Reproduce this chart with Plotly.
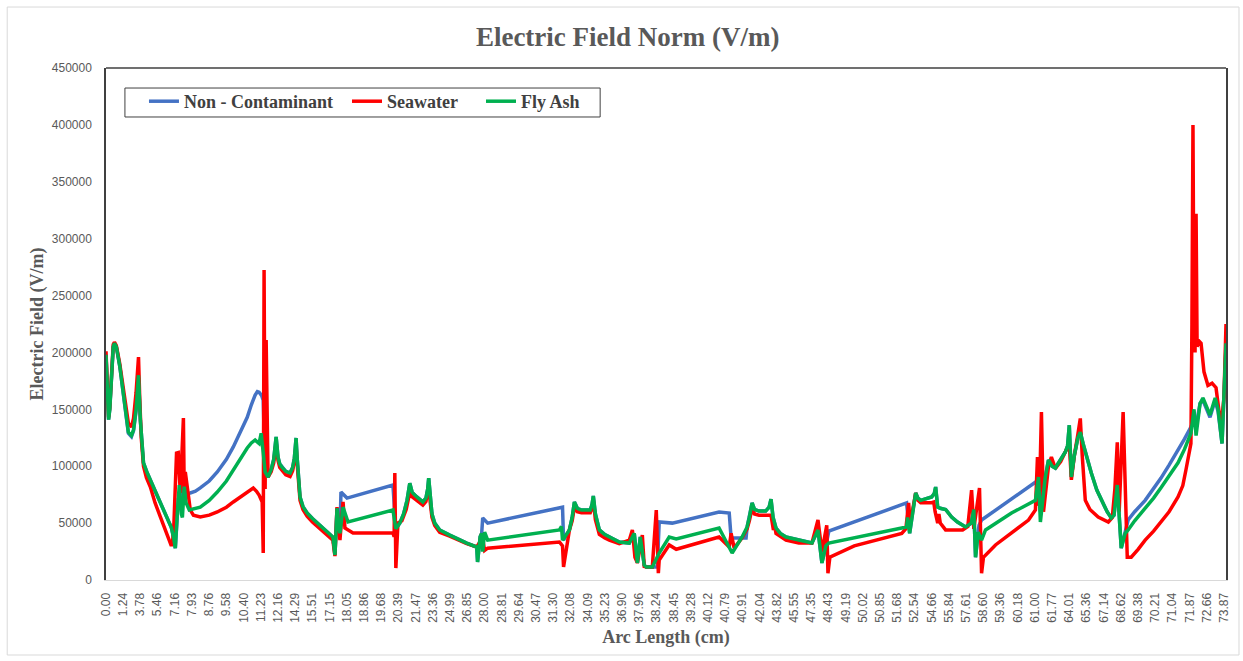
import plotly.graph_objects as go

# ---- tick labels of the category axis (arc length, cm) ----
tick_labels = ["0.00", "1.24", "3.78", "5.46", "7.16", "7.93", "8.76", "9.58", "10.40", "11.23",
               "12.16", "14.29", "15.51", "17.15", "18.05", "18.86", "19.68", "20.39", "21.47", "23.36",
               "24.99", "26.85", "28.00", "28.81", "29.64", "30.47", "31.30", "32.08", "34.09", "35.23",
               "36.90", "37.96", "38.24", "38.45", "39.28", "40.12", "40.79", "40.91", "42.04", "43.82",
               "45.55", "47.35", "48.43", "49.19", "50.02", "50.85", "51.68", "52.54", "54.66", "55.84",
               "57.61", "58.60", "59.36", "60.18", "61.00", "61.77", "64.01", "65.36", "67.14", "68.62",
               "69.38", "70.21", "71.04", "71.87", "72.66", "73.87"]
y_ticks = [0, 50000, 100000, 150000, 200000, 250000, 300000, 350000, 400000, 450000]

# ---- series: (position along the category axis in tick-label steps, field in V/m) ----
non_contaminant = [
    (0, 198000), (0.05, 172000), (0.10, 148000), (0.15, 141000), (0.22, 150000), (0.32, 185000),
    (0.42, 205000), (0.49, 208000), (0.60, 205000), (0.80, 188000), (1.00, 165000), (1.15, 145000),
    (1.30, 129000), (1.48, 126000), (1.60, 131000), (1.75, 149000), (1.89, 178000), (2.00, 140000),
    (2.08, 118000), (2.18, 103000), (2.40, 94000), (2.58, 88000), (2.85, 78000), (3.16, 68000),
    (3.40, 61000), (3.63, 53000), (3.80, 46000), (3.92, 38000), (4.03, 28000), (4.21, 72000),
    (4.32, 62000), (4.50, 85000), (4.61, 76000), (4.90, 76500), (5.20, 78000), (5.48, 80900),
    (6.00, 87000), (6.47, 95000), (7.00, 106000), (7.40, 117000), (7.80, 129000), (8.21, 143000),
    (8.45, 154000), (8.67, 162600), (8.80, 165500), (8.90, 165000), (9.05, 162000), (9.14, 158000),
    (9.25, 95000), (9.42, 90500), (9.60, 97000), (9.75, 106000), (9.89, 125700), (10.00, 108000),
    (10.10, 102000), (10.24, 99000), (10.45, 95500), (10.70, 94000), (10.85, 99000), (10.95, 107000),
    (11.05, 124800), (11.10, 110000), (11.18, 88000), (11.28, 73000), (11.45, 64500), (11.69, 58900),
    (12.00, 54000), (12.44, 48300), (12.80, 43500), (13.19, 37800), (13.31, 22000), (13.43, 63000),
    (13.60, 41000), (13.66, 77300), (14.01, 72000), (16.68, 83500), (16.85, 45000), (17.08, 50000),
    (17.30, 58000), (17.50, 70000), (17.66, 85000), (17.80, 77000), (18.07, 73000), (18.42, 68600),
    (18.60, 72000), (18.70, 80000), (18.76, 89600), (18.85, 72000), (18.95, 58000), (19.11, 50000),
    (19.40, 44000), (19.98, 39500), (20.50, 35500), (20.97, 32500), (21.55, 29000), (21.60, 15800),
    (21.75, 38000), (21.84, 41000), (21.90, 54500), (22.19, 50000), (26.54, 64000), (26.60, 35000),
    (26.94, 44000), (27.10, 55000), (27.23, 68600), (27.40, 63000), (27.64, 61500), (28.15, 61500),
    (28.25, 66000), (28.33, 73800), (28.45, 58000), (28.68, 44000), (29.00, 40000), (29.26, 37800),
    (29.84, 33400), (30.42, 32500), (30.71, 41000), (30.89, 15000), (31.06, 37800), (31.29, 13000),
    (31.41, 11400), (31.76, 11400), (32.05, 11400), (32.16, 51000), (32.92, 50000), (35.64, 59800),
    (36.23, 58900), (36.34, 37000), (37.21, 37000), (37.27, 46600), (37.40, 55000), (37.56, 67700),
    (37.70, 62000), (37.96, 60600), (38.35, 60600), (38.55, 64000), (38.66, 71000), (38.78, 55000),
    (38.95, 45700), (39.20, 41000), (39.53, 37800), (40.28, 35000), (41.04, 32500), (41.39, 44000),
    (41.62, 15000), (41.85, 30000), (42.02, 43000), (46.54, 67700), (46.66, 50000), (46.72, 41000),
    (46.90, 60000), (47.07, 76500), (47.20, 72000), (47.36, 70000), (48.00, 73000), (48.15, 76000),
    (48.23, 81700), (48.35, 64000), (48.50, 63000), (48.81, 62000), (49.16, 55400), (49.50, 51000),
    (49.97, 46600), (50.30, 50000), (50.45, 62000), (50.55, 20000), (50.75, 48000), (50.90, 52700),
    (54.21, 87900), (54.32, 60000), (54.60, 90000), (54.79, 105500), (55.00, 100000), (55.19, 98400),
    (55.50, 106000), (55.77, 112500), (55.90, 118000), (56.00, 136000), (56.12, 90500), (56.30, 110000),
    (56.50, 125000), (56.64, 130000), (56.80, 120000), (57.00, 108000), (57.28, 94000), (57.60, 79000),
    (57.86, 70000), (58.20, 60000), (58.44, 54500), (58.60, 57000), (58.79, 83500), (58.90, 50000),
    (59.02, 28000), (59.42, 52700), (59.80, 60000), (60.41, 70000), (60.90, 80000), (61.33, 89600),
    (61.80, 101000), (62.32, 114000), (62.70, 124000), (63.07, 134500), (63.31, 143000), (63.37, 135000),
    (63.60, 155000), (63.77, 158000), (64.18, 143000), (64.48, 158000), (64.65, 148000), (64.88, 120000),
    (65.11, 205000),
]

seawater = [
    (0, 201000), (0.05, 175000), (0.10, 150000), (0.15, 143000), (0.22, 152000), (0.32, 187000),
    (0.42, 207000), (0.49, 209000), (0.60, 206000), (0.80, 190000), (1.00, 168000), (1.15, 150000),
    (1.30, 138000), (1.48, 134500), (1.60, 142000), (1.75, 165000), (1.89, 196000), (1.96, 160000),
    (2.05, 125000), (2.18, 100000), (2.35, 90000), (2.58, 81700), (2.85, 68000), (3.16, 55400),
    (3.40, 45000), (3.57, 37800), (3.70, 32000), (3.80, 29900), (3.88, 35000), (3.95, 50000),
    (4.10, 111600), (4.20, 112000), (4.32, 76500), (4.50, 142400), (4.55, 73000), (4.61, 95000),
    (4.90, 61500), (5.08, 57000), (5.48, 55400), (6.00, 57000), (6.47, 59800), (7.00, 64000),
    (7.40, 68600), (7.80, 73000), (8.21, 77300), (8.56, 80900), (8.75, 78000), (8.90, 74700),
    (9.08, 68600), (9.14, 23700), (9.19, 272500), (9.25, 80000), (9.31, 211000), (9.42, 90500),
    (9.60, 95000), (9.75, 103000), (9.89, 121000), (10.00, 105000), (10.10, 99000), (10.24, 96000),
    (10.45, 92500), (10.70, 91000), (10.85, 96000), (10.95, 104000), (11.05, 118000), (11.10, 105000),
    (11.18, 85000), (11.28, 70000), (11.45, 62000), (11.69, 56000), (12.00, 51000), (12.44, 45000),
    (12.80, 40000), (13.19, 35000), (13.31, 21000), (13.43, 64000), (13.60, 35000), (13.78, 68600),
    (13.89, 45700), (14.36, 41300), (16.68, 41300), (16.75, 38000), (16.79, 94000), (16.85, 10500),
    (16.97, 50000), (17.20, 52000), (17.45, 62000), (17.66, 77000), (17.80, 73000), (18.07, 70000),
    (18.42, 65900), (18.60, 69000), (18.76, 83000), (18.85, 68000), (18.95, 55000), (19.11, 48000),
    (19.40, 42000), (19.98, 38500), (20.50, 35000), (20.97, 32000), (21.55, 29000), (21.72, 33000),
    (21.84, 41000), (22.01, 26000), (22.19, 28000), (26.36, 33400), (26.54, 30000), (26.60, 11400),
    (26.94, 44000), (27.10, 52000), (27.23, 64000), (27.40, 60000), (27.64, 59000), (28.15, 59000),
    (28.25, 63000), (28.33, 70000), (28.45, 53000), (28.68, 40000), (29.00, 37000), (29.26, 35000),
    (29.84, 32000), (30.42, 35000), (30.60, 44000), (30.75, 20000), (30.89, 15000), (31.18, 39500),
    (31.29, 12000), (31.41, 11400), (31.76, 11400), (31.99, 61500), (32.11, 6000), (32.16, 17600),
    (32.74, 30800), (33.15, 27000), (35.64, 37800), (36.23, 29000), (36.34, 41000), (36.52, 28000),
    (36.98, 37000), (37.27, 45000), (37.40, 52000), (37.56, 63000), (37.70, 58000), (37.96, 57000),
    (38.35, 57000), (38.66, 57000), (38.80, 44000), (38.88, 47000), (38.95, 41000), (39.20, 38000),
    (39.53, 35000), (40.28, 32500), (41.04, 32500), (41.39, 52700), (41.62, 25000), (41.90, 48000),
    (41.97, 6000), (42.08, 20000), (43.50, 30000), (46.26, 41000), (46.50, 45000), (46.66, 67700),
    (46.75, 50000), (46.90, 62000), (47.07, 76500), (47.20, 70000), (47.36, 68000), (48.00, 68000),
    (48.12, 68600), (48.20, 60000), (48.35, 50000), (48.42, 58000), (48.50, 50000), (48.81, 44000),
    (49.80, 44000), (50.10, 47000), (50.32, 79000), (50.45, 45000), (50.78, 80900), (50.90, 6000),
    (51.01, 20000), (51.71, 30800), (52.64, 41000), (53.63, 52700), (54.03, 61500), (54.15, 108000),
    (54.25, 65000), (54.38, 147600), (54.50, 60000), (54.79, 100000), (54.96, 108000), (55.19, 98000),
    (55.50, 104000), (55.77, 112000), (56.00, 120000), (56.12, 88000), (56.30, 110000), (56.50, 128000),
    (56.64, 142000), (56.75, 110000), (56.93, 70000), (57.20, 62000), (57.68, 55400), (58.27, 51000),
    (58.50, 55000), (58.65, 80000), (58.79, 121000), (58.90, 60000), (59.13, 147600), (59.37, 20000),
    (59.60, 20000), (60.00, 27000), (60.41, 35000), (60.90, 43000), (61.33, 51000), (61.80, 60000),
    (62.32, 73000), (62.60, 83000), (62.78, 96700), (62.95, 110000), (63.07, 120000), (63.13, 225000),
    (63.19, 400000), (63.25, 215000), (63.31, 200000), (63.37, 322000), (63.43, 205000), (63.54, 210000),
    (63.66, 208000), (63.83, 183000), (64.06, 171000), (64.30, 173000), (64.53, 169000), (64.82, 134500),
    (64.99, 160000), (65.11, 225000),
]

fly_ash = [
    (0, 198000), (0.05, 172000), (0.10, 148000), (0.15, 141000), (0.22, 150000), (0.32, 185000),
    (0.42, 205000), (0.49, 208000), (0.60, 205000), (0.80, 188000), (1.00, 165000), (1.15, 145000),
    (1.30, 130000), (1.48, 127000), (1.60, 132000), (1.75, 150000), (1.89, 180000), (2.00, 140000),
    (2.08, 118000), (2.18, 103000), (2.40, 94000), (2.58, 88000), (2.85, 78000), (3.16, 68000),
    (3.40, 61000), (3.63, 53000), (3.80, 46000), (3.92, 38000), (4.03, 28000), (4.15, 60000),
    (4.26, 83500), (4.38, 58000), (4.44, 55000), (4.55, 82000), (4.65, 68000), (4.84, 61500),
    (5.48, 64000), (6.00, 70000), (6.47, 77300), (7.00, 87000), (7.40, 96700), (7.80, 106000),
    (8.21, 116000), (8.45, 120500), (8.67, 123000), (8.90, 120000), (9.02, 129000), (9.14, 112000),
    (9.25, 95000), (9.42, 90500), (9.60, 97000), (9.75, 106000), (9.89, 125700), (10.00, 108000),
    (10.10, 102000), (10.24, 99000), (10.45, 95500), (10.70, 94000), (10.85, 99000), (10.95, 107000),
    (11.05, 124800), (11.10, 110000), (11.18, 88000), (11.28, 73000), (11.45, 64500), (11.69, 58900),
    (12.00, 54000), (12.44, 48300), (12.80, 43500), (13.19, 37800), (13.31, 22000), (13.43, 63000),
    (13.60, 41000), (13.78, 64000), (14.07, 51000), (16.68, 61500), (16.85, 45000), (17.08, 50000),
    (17.30, 58000), (17.50, 70000), (17.66, 85000), (17.80, 77000), (18.07, 73000), (18.42, 68600),
    (18.60, 72000), (18.70, 80000), (18.76, 89600), (18.85, 72000), (18.95, 58000), (19.11, 50000),
    (19.40, 44000), (19.98, 39500), (20.50, 35500), (20.97, 32500), (21.55, 29000), (21.60, 15800),
    (21.75, 38000), (21.84, 41000), (21.90, 25000), (22.01, 42000), (22.19, 35000), (26.36, 44000),
    (26.48, 47000), (26.54, 35000), (26.94, 44000), (27.10, 55000), (27.23, 68600), (27.40, 63000),
    (27.64, 61500), (28.15, 61500), (28.25, 66000), (28.33, 73800), (28.45, 58000), (28.68, 44000),
    (29.00, 40000), (29.26, 37800), (29.84, 33400), (30.42, 32500), (30.71, 41000), (30.89, 15000),
    (31.06, 37800), (31.29, 13000), (31.41, 11400), (31.76, 11400), (32.16, 23700), (32.74, 37800),
    (33.15, 36000), (35.64, 45700), (36.40, 23700), (36.98, 37800), (37.27, 46600), (37.40, 55000),
    (37.56, 67700), (37.70, 62000), (37.96, 60600), (38.35, 60600), (38.55, 64000), (38.66, 71000),
    (38.78, 55000), (38.95, 45700), (39.20, 41000), (39.53, 37800), (40.28, 35000), (41.04, 32500),
    (41.39, 44000), (41.62, 15000), (41.85, 30000), (42.02, 32500), (46.54, 46600), (46.60, 55000),
    (46.72, 41000), (46.90, 60000), (47.07, 76500), (47.20, 72000), (47.36, 70000), (48.00, 73000),
    (48.15, 76000), (48.23, 81700), (48.35, 64000), (48.50, 63000), (48.81, 62000), (49.16, 55400),
    (49.50, 51000), (49.97, 46600), (50.30, 50000), (50.45, 62000), (50.55, 20000), (50.70, 42000),
    (50.90, 35000), (51.13, 44000), (52.64, 58900), (54.03, 70000), (54.21, 90500), (54.32, 51000),
    (54.60, 90000), (54.79, 105500), (55.00, 100000), (55.19, 98400), (55.50, 106000), (55.77, 112500),
    (55.90, 118000), (56.00, 136000), (56.12, 90500), (56.30, 110000), (56.50, 125000), (56.64, 130000),
    (56.80, 120000), (57.00, 108000), (57.28, 94000), (57.60, 79000), (57.86, 70000), (58.20, 60000),
    (58.44, 54500), (58.60, 57000), (58.79, 83500), (58.90, 50000), (59.02, 28000), (59.25, 41000),
    (59.42, 44000), (59.80, 52000), (60.41, 63000), (60.90, 72000), (61.33, 81000), (61.80, 91000),
    (62.32, 103000), (62.70, 115000), (63.07, 129000), (63.25, 150000), (63.37, 127000), (63.60, 155000),
    (63.77, 160000), (64.18, 145000), (64.48, 160000), (64.65, 150000), (64.88, 120000), (65.11, 208000),
]

series = [
    ("Non - Contaminant\u00a0\u00a0", non_contaminant, "#4472C4"),
    ("Seawater\u00a0\u00a0\u00a0\u00a0", seawater, "#FF0000"),
    ("Fly Ash", fly_ash, "#00B050"),
]

GRAY = "#595959"
SERIF = "Liberation Serif"
SANS = "Liberation Sans"

fig = go.Figure()
for name, pts, color in series:
    xs, ys = zip(*pts)
    fig.add_trace(go.Scatter(x=list(xs), y=list(ys), mode="lines", name=name,
                             line=dict(color=color, width=3.5)))

fig.update_layout(
    width=1243, height=661,
    margin=dict(l=106, r=15, t=68, b=81),
    paper_bgcolor="white", plot_bgcolor="white",
    title=dict(text="Electric Field Norm (V/m)", x=0.505, xref="container", xanchor="center",
               y=0.944, yref="container", yanchor="middle",
               font=dict(family=SERIF, size=27, color=GRAY, weight="bold")),
    legend=dict(orientation="h", x=0.0339, y=0.9707, xanchor="left", yanchor="top",
                borderwidth=0, bgcolor="rgba(0,0,0,0)",
                font=dict(family=SERIF, size=18, color="#404040", weight="bold")),
    xaxis=dict(range=[0, 65.11], tickmode="array", tickvals=list(range(len(tick_labels))),
               ticktext=tick_labels, tickangle=-90,
               tickfont=dict(family=SANS, size=12, color=GRAY),
               showline=True, linecolor="#d9d9d9", linewidth=1,
               ticks="outside", ticklen=7, tickcolor="rgba(0,0,0,0)",
               showgrid=False, zeroline=False,
               title=dict(text="Arc Length (cm)", standoff=8,
                          font=dict(family=SERIF, size=18, color=GRAY, weight="bold"))),
    yaxis=dict(range=[0, 450000], tickmode="array", tickvals=y_ticks, tickformat="d",
               tickfont=dict(family=SANS, size=12, color=GRAY),
               showline=True, linecolor="#404040", linewidth=1.5, mirror=True,
               ticks="outside", ticklen=10, tickcolor="rgba(0,0,0,0)",
               showgrid=False, zeroline=False,
               title=dict(text="Electric Field (V/m)", standoff=4,
                          font=dict(family=SERIF, size=18, color=GRAY, weight="bold"))),
    shapes=[
        dict(type="line", xref="paper", yref="paper", x0=0, x1=1, y0=1, y1=1,
             line=dict(color="#404040", width=1.5)),
        dict(type="rect", xref="paper", yref="paper", x0=-0.0882, x1=1.0116, y0=-0.1465, y1=1.1191,
             line=dict(color="#d9d9d9", width=1), layer="below"),
        dict(type="rect", xref="paper", yref="paper", x0=0.0169, x1=0.4412, y0=0.9043, y1=0.9609,
             line=dict(color="#404040", width=1), fillcolor="white", layer="below"),
    ],
)

fig.write_html("out.html", config={"displayModeBar": False},
               post_script="document.body.style.margin='0px';")
